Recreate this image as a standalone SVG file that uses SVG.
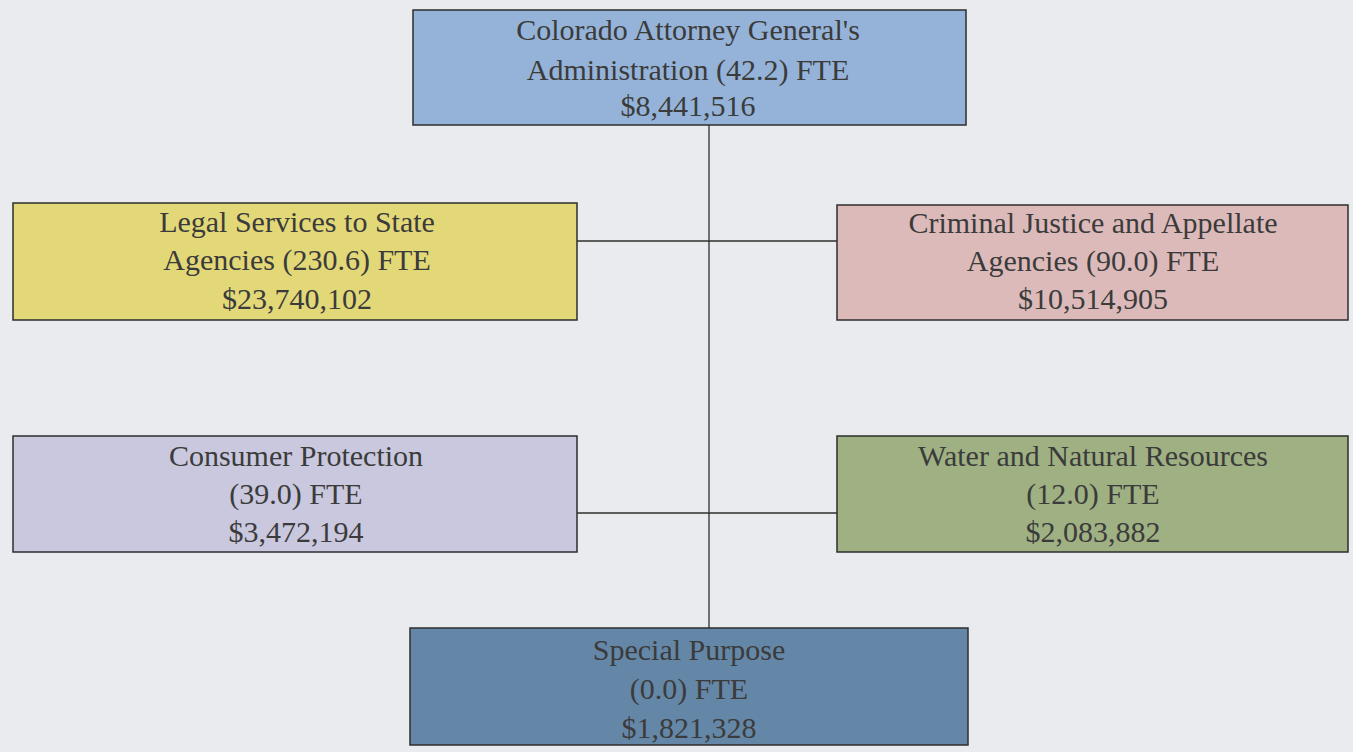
<svg xmlns="http://www.w3.org/2000/svg" width="1353" height="752" viewBox="0 0 1353 752">
<style>
.box{stroke:#2e2e2e;stroke-width:1.5}
.t{font-family:"Liberation Serif","Times New Roman",serif;font-size:30px;fill:#3b3b3b;text-anchor:middle}
.c{stroke:#2e2e2e;stroke-width:1.3;fill:none}
</style>
<rect x="0" y="0" width="1353" height="752" fill="#e9ebee"/>
<g id="connectors">
<line class="c" x1="709" y1="125" x2="709" y2="628"/>
<line class="c" x1="577" y1="241" x2="837" y2="241"/>
<line class="c" x1="577" y1="513" x2="837" y2="513"/>
</g>
<g id="admin">
<rect class="box" x="413" y="10" width="553" height="115" fill="#95b3d8"/>
<text class="t" x="688" y="40">Colorado Attorney General's</text>
<text class="t" x="688" y="80">Administration (42.2) FTE</text>
<text class="t" x="688" y="116">$8,441,516</text>
</g>
<g id="legal">
<rect class="box" x="13" y="203" width="564" height="117" fill="#e3d878"/>
<text class="t" x="297" y="232">Legal Services to State</text>
<text class="t" x="297" y="270">Agencies (230.6) FTE</text>
<text class="t" x="297" y="309">$23,740,102</text>
</g>
<g id="criminal">
<rect class="box" x="837" y="205" width="511" height="115" fill="#dcbaba"/>
<text class="t" x="1093" y="233">Criminal Justice and Appellate</text>
<text class="t" x="1093" y="271">Agencies (90.0) FTE</text>
<text class="t" x="1093" y="309">$10,514,905</text>
</g>
<g id="consumer">
<rect class="box" x="13" y="436" width="564" height="116" fill="#c9c8de"/>
<text class="t" x="296" y="466">Consumer Protection</text>
<text class="t" x="296" y="504">(39.0) FTE</text>
<text class="t" x="296" y="542">$3,472,194</text>
</g>
<g id="water">
<rect class="box" x="837" y="436" width="511" height="116" fill="#9fb183"/>
<text class="t" x="1093" y="466">Water and Natural Resources</text>
<text class="t" x="1093" y="504">(12.0) FTE</text>
<text class="t" x="1093" y="542">$2,083,882</text>
</g>
<g id="special">
<rect class="box" x="410" y="628" width="558" height="117" fill="#6587a7"/>
<text class="t" x="689" y="660">Special Purpose</text>
<text class="t" x="689" y="699">(0.0) FTE</text>
<text class="t" x="689" y="738">$1,821,328</text>
</g>
</svg>
